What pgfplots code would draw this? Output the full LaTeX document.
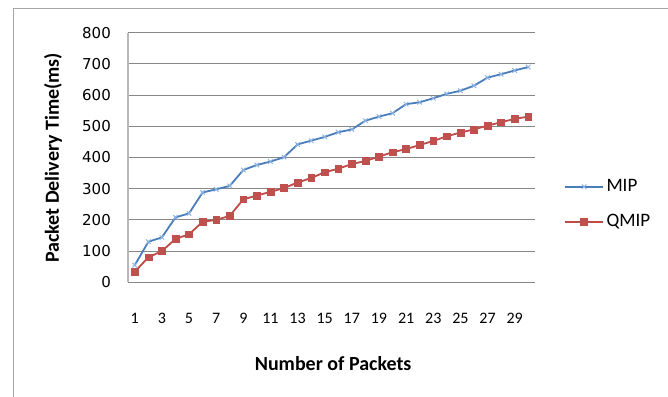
\documentclass[border=0pt]{standalone}
\usepackage{pgfplots}
\pgfplotsset{compat=1.18}
\usepackage{fontspec}
\setmainfont{Carlito}
\newfontfamily\tickfont{DejaVu Sans}

\definecolor{mipblue}{HTML}{4A7EBB}
\definecolor{mipmark}{HTML}{8EB4E3}
\definecolor{qmipred}{HTML}{BE4B48}
\definecolor{qmipfill}{HTML}{C0504D}
\definecolor{gridgray}{HTML}{878787}
\definecolor{framegray}{HTML}{A6A6A6}

\pgfplotstableread{
n   mip  qmip
1   55   34
2   130  80
3   144  100
4   208  139
5   221  154
6   288  194
7   298  200
8   309  213
9   360  266
10  376  278
11  387  290
12  401  302
13  442  320
14  454  334
15  466  353
16  481  364
17  490  379
18  518  389
19  531  403
20  542  417
21  571  427
22  577  440
23  590  453
24  604  468
25  614  480
26  630  490
27  656  502
28  667  513
29  679  524
30  690  531
}\delaytable

\begin{document}
\begin{tikzpicture}
\path[use as bounding box] (0,0) rectangle (668bp,-397bp);
% chart area border
\draw[framegray, line width=0.8bp] (13bp,-397bp) -- (13bp,-8bp) -- (668bp,-8bp);
\begin{axis}[
  at={(128bp,-282.3bp)}, anchor=south west,
  scale only axis, width=407bp, height=249.6bp,
  xmin=0.5, xmax=30.5, ymin=0, ymax=800,
  xtick={1,3,...,29}, ytick={0,100,...,800},
  axis x line*=bottom, axis y line*=left,
  x axis line style={draw=none},
  y axis line style={-, draw=black!28, line width=1.3bp},
  major tick length=0pt,
  ymajorgrids, grid style={draw=gridgray, line width=0.9bp},
  /pgf/number format/assume math mode=true,
  yticklabel style={font=\tickfont\fontsize{15bp}{17bp}\selectfont, anchor=east, inner sep=0pt, xshift=-17bp},
  xticklabel style={font=\fontsize{16bp}{18bp}\selectfont, anchor=center, inner sep=0pt, yshift=-35.7bp},
  xlabel={\textbf{Number of Packets}},
  ylabel={\textbf{Packet Delivery Time(ms)}},
  xlabel style={font=\fontsize{20bp}{22bp}\selectfont, at={(axis description cs:0.504,0)}, anchor=center, inner sep=0pt, yshift=-81.7bp},
  ylabel style={font=\fontsize{20bp}{22bp}\selectfont, at={(axis description cs:-0.1843,0.499)}, anchor=center, inner sep=0pt},
  legend cell align=left,
  legend style={draw=none, fill=none, inner sep=0pt,
    at={(rel axis cs:1,0.313)}, anchor=west, xshift=29bp,
    font=\fontsize{19bp}{22bp}\selectfont,
    nodes={inner sep=0pt, text height=12bp, text depth=3bp},
    row sep=20bp,
    /tikz/every odd column/.append style={column sep=2.5bp}},
  legend image code/.code={\draw[mark repeat=2, mark phase=2, #1] plot coordinates {(0bp,0bp) (19bp,0bp) (38bp,0bp)};},
]
\addplot[color=mipblue, line width=1.8bp, mark=x, mark size=3.2bp,
  mark options={draw=mipmark, line width=1bp}] table[x=n, y=mip] {\delaytable};
\addlegendentry{MIP}
\addplot[color=qmipred, line width=1.8bp, mark=square*, mark size=3.4bp,
  mark options={fill=qmipfill, draw=qmipfill, line width=0.5bp}] table[x=n, y=qmip] {\delaytable};
\addlegendentry{QMIP}
\end{axis}
\end{tikzpicture}
\end{document}
